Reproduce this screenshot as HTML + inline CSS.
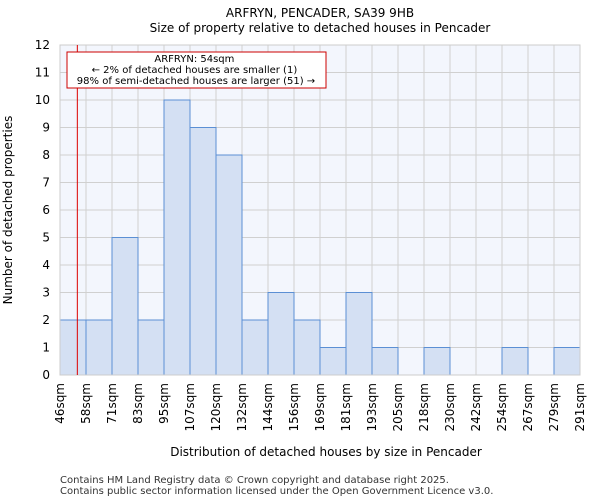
<!DOCTYPE html>
<html><head><meta charset="utf-8"><style>
body{margin:0;background:#fff;font-family:"DejaVu Sans","Liberation Sans",sans-serif}
</style></head><body>
<svg id="chart" width="600" height="500" xmlns="http://www.w3.org/2000/svg" font-family="DejaVu Sans, Liberation Sans, sans-serif">
<text x="320" y="17" text-anchor="middle" font-size="12">ARFRYN, PENCADER, SA39 9HB</text>
<text x="320" y="32" text-anchor="middle" font-size="12">Size of property relative to detached houses in Pencader</text>
<rect x="60" y="45" width="520" height="330" fill="#f3f6fd"/>
<g id="grid"></g><g id="bars"></g><g id="axes"></g>
<line id="marker" y1="45" y2="375" stroke="#dd0000" stroke-width="1"/>
<rect x="67" y="52" width="259" height="36" fill="#fff" stroke="#cc0000"/>
<text font-size="10" text-anchor="middle">
<tspan x="196" y="62">ARFRYN: 54sqm</tspan>
<tspan x="196" y="73">← 2% of detached houses are smaller (1)</tspan>
<tspan x="196" y="84">98% of semi-detached houses are larger (51) →</tspan></text>
<text transform="translate(12,210) rotate(-90)" text-anchor="middle" font-size="12">Number of detached properties</text>
<text x="326" y="456" text-anchor="middle" font-size="12">Distribution of detached houses by size in Pencader</text>
<text font-size="10" fill="#333"><tspan x="60" y="483">Contains HM Land Registry data © Crown copyright and database right 2025.</tspan><tspan x="60" y="494">Contains public sector information licensed under the Open Government Licence v3.0.</tspan></text>
</svg>
<script>
const binLabels=["46sqm","58sqm","71sqm","83sqm","95sqm","107sqm","120sqm","132sqm","144sqm","156sqm","169sqm","181sqm","193sqm","205sqm","218sqm","230sqm","242sqm","254sqm","267sqm","279sqm","291sqm"];
const binEdges=[46,58,71,83,95,107,120,132,144,156,169,181,193,205,218,230,242,254,267,279,291];
const counts=[2,2,5,2,10,9,8,2,3,2,1,3,1,0,1,0,0,1,0,1];
const yTicks=[0,1,2,3,4,5,6,7,8,9,10,11,12];
const subjectSize=54;
const X0=60,X1=580,Y0=375,Y1=45,yMax=12;
const n=counts.length,bw=(X1-X0)/n;
const xi=i=>X0+i*bw;
const y=v=>Y0-(v/yMax)*(Y0-Y1);
const xv=v=>{for(let i=0;i<binEdges.length-1;i++){if(v<=binEdges[i+1])return xi(i)+(v-binEdges[i])/(binEdges[i+1]-binEdges[i])*bw;}return X1;};
const NS="http://www.w3.org/2000/svg";
function mk(t,a,p){const e=document.createElementNS(NS,t);for(const k in a)e.setAttribute(k,a[k]);p.appendChild(e);return e;}
const g=document.getElementById('grid'),b=document.getElementById('bars'),ax=document.getElementById('axes');
yTicks.forEach(t=>{const l=mk('line',{x1:X0,x2:X1,y1:y(t),y2:y(t),stroke:'#d0d0d0'},g);


const tx=mk('text',{x:X0-10,y:y(t)+4,'text-anchor':'end','font-size':12},ax);tx.textContent=t;

});
binLabels.forEach((lab,i)=>{const x=xi(i);const l=mk('line',{x1:x,x2:x,y1:Y1,y2:Y0,stroke:'#d0d0d0'},g);


const tx=mk('text',{transform:`translate(${x+4},${Y0+8}) rotate(-90)`,'text-anchor':'end','font-size':12},ax);tx.textContent=lab;

});
counts.forEach((c,i)=>{if(c<=0)return;const r=mk('rect',{x:xi(i),y:y(c),width:bw,height:Y0-y(c),fill:'#d4e0f3',stroke:'#5b8fd4'},b);

});
const f=mk('rect',{x:X0,y:Y1,width:X1-X0,height:Y0-Y1,fill:'none',stroke:'#ccc'},ax);


const m=document.getElementById('marker');m.setAttribute('x1',xv(subjectSize));m.setAttribute('x2',xv(subjectSize));
</script>
</body></html>
